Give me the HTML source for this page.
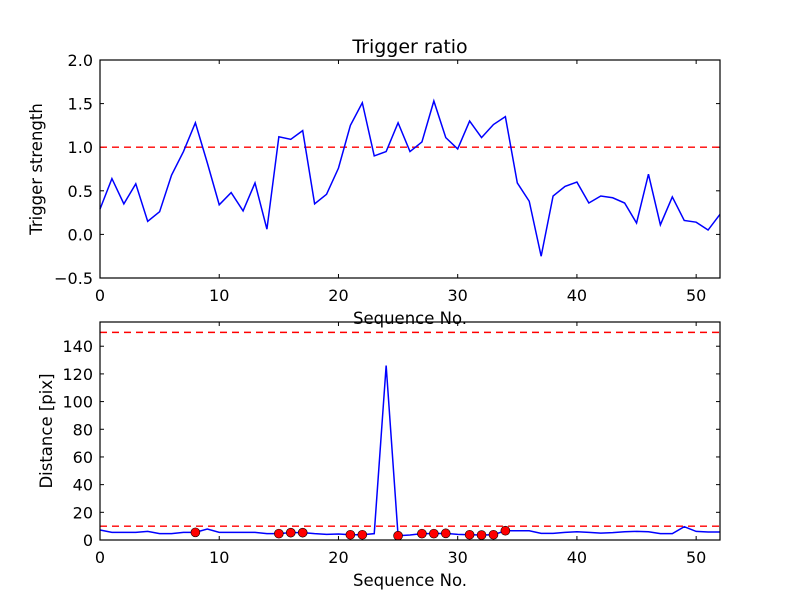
<!DOCTYPE html>
<html><head><meta charset="utf-8"><style>
body{margin:0;background:#fff}
svg text{font-family:"DejaVu Sans","Liberation Sans",sans-serif;fill:#000}
</style></head><body>
<svg id="c" width="800" height="600" viewBox="0 0 800 600"></svg>
<script>
const seq = [];
for (let i = 0; i <= 52; i++) seq.push(i);
const triggerStrength = [0.29,0.64,0.35,0.58,0.15,0.26,0.68,0.95,1.28,0.82,0.34,0.48,0.27,0.59,0.06,1.12,1.09,1.19,0.35,0.46,0.76,1.25,1.51,0.9,0.95,1.28,0.95,1.06,1.53,1.11,0.98,1.30,1.11,1.26,1.35,0.59,0.38,-0.25,0.44,0.55,0.60,0.36,0.44,0.42,0.36,0.13,0.69,0.11,0.43,0.16,0.14,0.05,0.23];
const distance = [7.2,5.5,5.5,5.5,6.2,4.6,4.6,5.5,5.5,7.9,5.5,5.5,5.5,5.5,4.6,4.6,5.3,5.3,4.6,4.1,4.3,3.8,3.8,4.6,126,3.1,3.6,4.6,4.6,4.8,4.1,3.8,3.6,3.8,6.7,6.7,6.7,4.8,4.8,5.5,6.0,5.5,5.0,5.3,6.0,6.2,6.0,4.6,4.6,9.6,6.2,5.8,5.8];
const triggerIdx = [8,15,16,17,21,22,25,27,28,29,31,32,33,34];
const topYTicks = [-0.5,0.0,0.5,1.0,1.5,2.0];
const botYTicks = [0,20,40,60,80,100,120,140];
const xTicks = [0,10,20,30,40,50];
const topThreshold = 1.0;
const botThresholds = [10,150];

const NS = "http://www.w3.org/2000/svg";
const svg = document.getElementById('c');
function mk(tag, attrs, parent) {
  const e = document.createElementNS(NS, tag);
  for (const k in attrs) e.setAttribute(k, attrs[k]);
  (parent || svg).appendChild(e);
  return e;
}
function panel(name, top, bottom, ymin, ymax, yTicks, fmt, ylabel, ylOff) {
  const L = 100, R = 720;
  const g = mk('g', {});
  
  
  const sx = v => L + (v - 0) / 52 * (R - L);
  const sy = v => bottom - (v - ymin) / (ymax - ymin) * (bottom - top);
  xTicks.forEach(t => {
    const x = sx(t);
    mk('line', {x1:x, x2:x, y1:bottom, y2:bottom-4, stroke:'#000'}, g);
    mk('line', {x1:x, x2:x, y1:top, y2:top+4, stroke:'#000'}, g);
    const tx = mk('text', {x:x, y:bottom+23, 'text-anchor':'middle', 'font-size':'16'}, g);
    tx.textContent = t;
    
    
  });
  yTicks.forEach(t => {
    const y = sy(t);
    mk('line', {x1:L, x2:L+4, y1:y, y2:y, stroke:'#000'}, g);
    mk('line', {x1:R, x2:R-4, y1:y, y2:y, stroke:'#000'}, g);
    const tx = mk('text', {x:L-7, y:y+6, 'text-anchor':'end', 'font-size':'16'}, g);
    tx.textContent = fmt(t);
    
    
  });
  const xl = mk('text', {x:(L+R)/2, y:bottom+46, 'text-anchor':'middle', 'font-size':'16.5'}, g);
  xl.textContent = 'Sequence No.';
  
  
  const yl = mk('text', {x:0, y:0, 'text-anchor':'middle', 'font-size':'16.5', transform:`translate(${L-ylOff},${(top+bottom)/2}) rotate(-90)`}, g);
  yl.textContent = ylabel;
  
  
  return {g, sx, sy, L, R, top, bottom};
}
function frame(p) {
  const r = mk('rect', {x:p.L, y:p.top, width:p.R-p.L, height:p.bottom-p.top, fill:'none', stroke:'#000', 'stroke-width':1.2}, p.g);
  
  
}
function hline(p, v, name) {
  const l = mk('line', {x1:p.L, x2:p.R, y1:p.sy(v), y2:p.sy(v), stroke:'#ff0000', 'stroke-dasharray':'7,5', 'stroke-width':1.4}, p.g);
  
  
}
function line(p, ys, name) {
  const d = ys.map((v,i) => (i?'L':'M') + p.sx(seq[i]).toFixed(2) + ',' + p.sy(v).toFixed(2)).join('');
  const l = mk('path', {d:d, fill:'none', stroke:'#0000ff', 'stroke-width':1.5}, p.g);
  
  
}
const p1 = panel('trigger-strength-panel', 60, 278, -0.5, 2.0, topYTicks, t => t.toFixed(1).replace('-', '\u2212'), 'Trigger strength', 58);
hline(p1, topThreshold, 'threshold-line');
line(p1, triggerStrength, 'trigger-strength-line');
frame(p1);
const title = mk('text', {x:410, y:53, 'text-anchor':'middle', 'font-size':'19'});
title.textContent = 'Trigger ratio';


const p2 = panel('distance-panel', 322, 540, 0, 157.5, botYTicks, t => String(t), 'Distance [pix]', 48);
botThresholds.forEach(v => hline(p2, v, 'distance-threshold-line'));
line(p2, distance, 'distance-line');
triggerIdx.forEach(i => {
  const c = mk('circle', {cx:p2.sx(seq[i]), cy:p2.sy(distance[i]), r:4.5, fill:'#ff0000', stroke:'#000', 'stroke-width':0.6}, p2.g);
  
  
});
frame(p2);
</script>
</body></html>
